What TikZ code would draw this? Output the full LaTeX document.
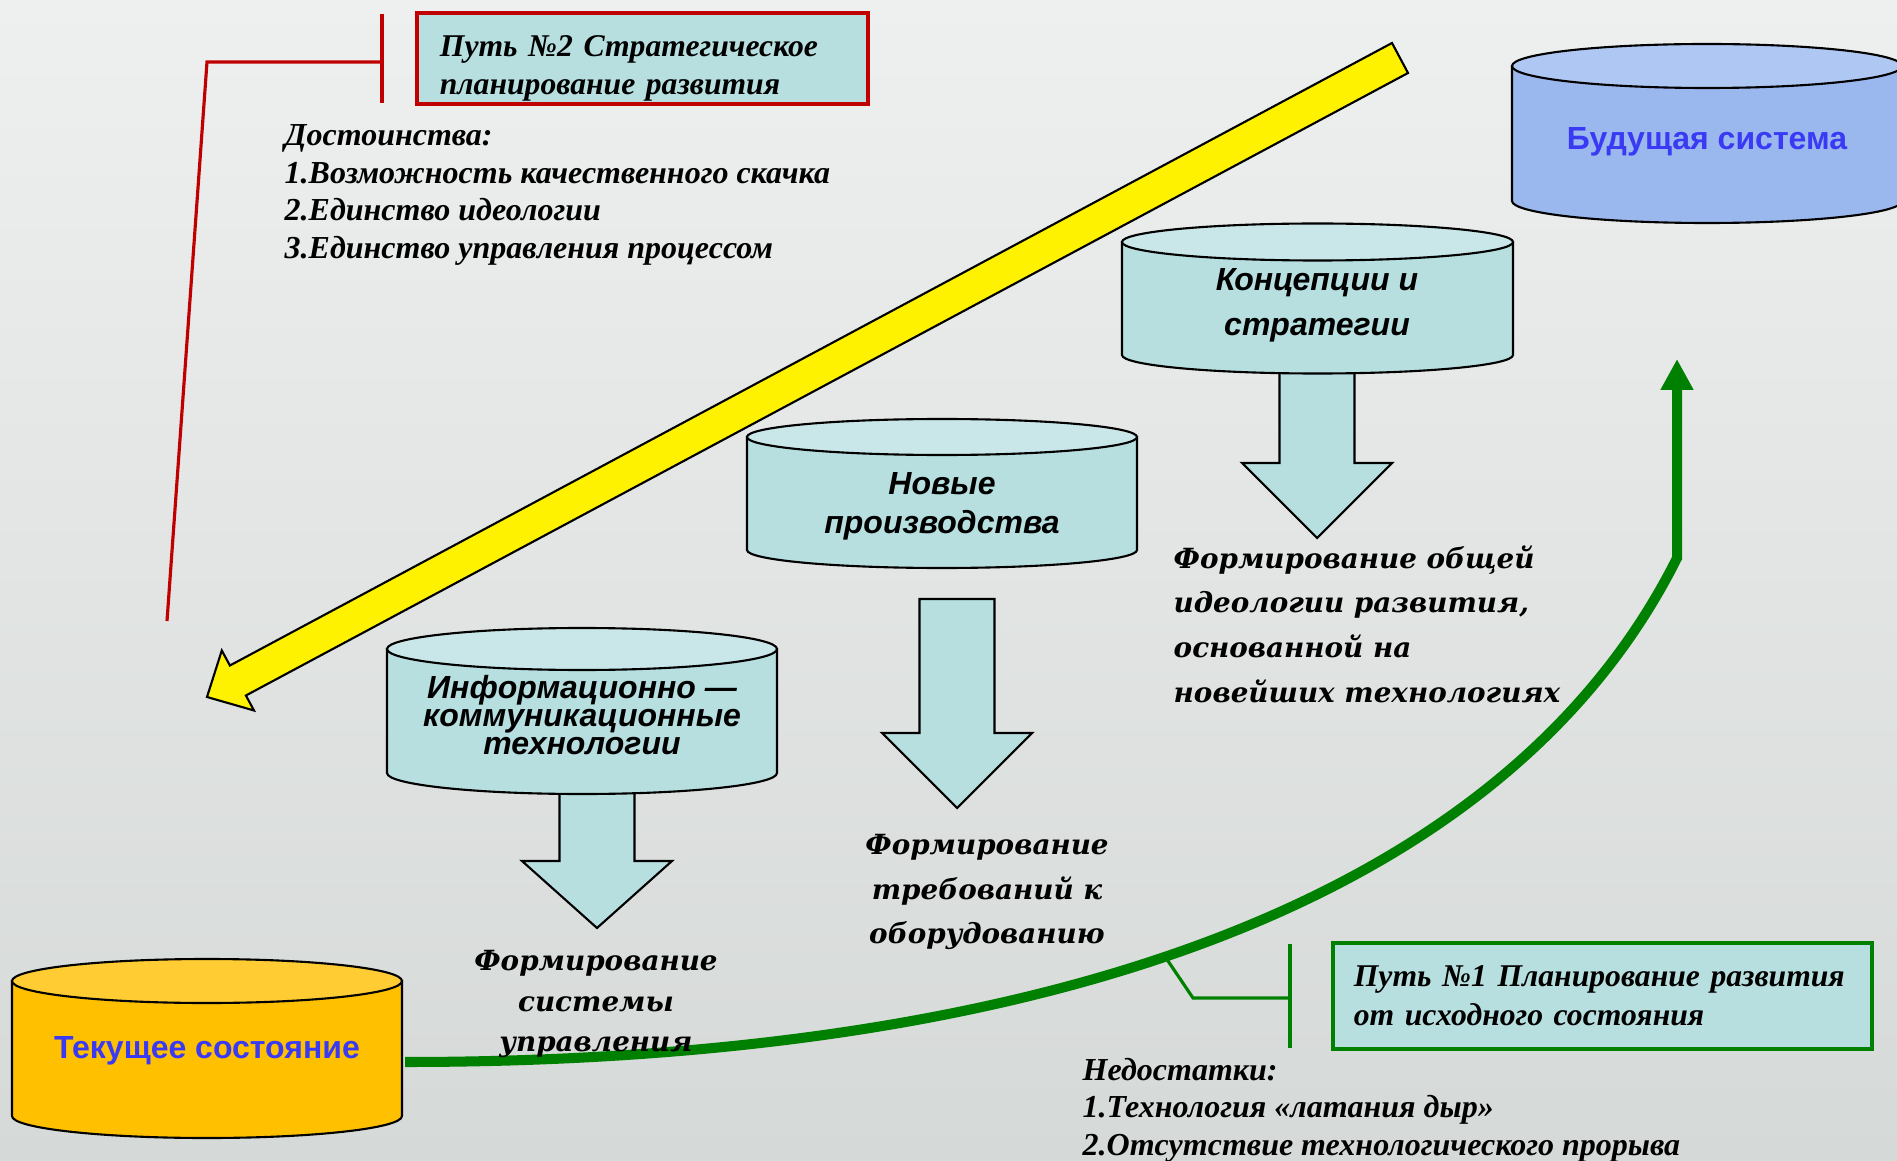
\documentclass[tikz,border=0pt]{standalone}
\usepackage{fontspec}
\setmainfont{Liberation Serif}
\newfontfamily\arialfont{Liberation Sans}
\newfontfamily\wideserif{DejaVu Serif}
\usepackage{tikz}
\usetikzlibrary{arrows.meta}
\definecolor{boxcyan}{HTML}{B7DFE0}
\definecolor{topcyan}{HTML}{C9E7E9}
\definecolor{curbody}{HTML}{FFC000}
\definecolor{curtop}{HTML}{FFCC33}
\definecolor{futbody}{HTML}{9AB7EE}
\definecolor{futtop}{HTML}{AFC7F3}
\definecolor{sysblue}{HTML}{3A3AF4}
\definecolor{pathred}{HTML}{C00000}
\definecolor{pathgreen}{HTML}{008000}
\definecolor{bgtop}{HTML}{EEF0F0}
\definecolor{bgmid}{HTML}{DCDFDF}
\definecolor{bgbot}{HTML}{D5D9D7}
\tikzset{
    every node/.style={inner sep=0pt},
    cylbody/.style={draw=black, line width=0.6pt},
    blockarrow/.style={draw=black, fill=boxcyan, line width=0.6pt},
    pathbox/.style={line width=1.1pt, fill=boxcyan, align=left, font=\bfseries\itshape\fontsize{9}{10.7}\selectfont},
    listtext/.style={align=left, font=\bfseries\itshape\fontsize{9.1}{10.7}\selectfont},
    formtext/.style={font=\wideserif\bfseries\itshape\fontsize{7.9}{12.7}\selectfont},
    cyllabel/.style={align=center, font=\arialfont\bfseries\itshape\fontsize{9.1}{12.8}\selectfont},
    syslabel/.style={text=sysblue, font=\arialfont\bfseries\fontsize{9.1}{10}\selectfont},
    redline/.style={draw=pathred, line width=0.9pt},
    greenline/.style={draw=pathgreen, line width=0.9pt}
}

\begin{document}
\begin{tikzpicture}[x=0.01cm, y=-0.01cm, line join=miter]
        \useasboundingbox (0,0) rectangle (1897,1161);
        \shade[top color=bgtop, middle color=bgmid, bottom color=bgbot] (0,0) rectangle (1897,1161);

        % block arrows under the cylinders
        \foreach \cx/\ytop/\yhead/\ytip in {1317/355/463/538, 957/599/733/808, 597/773/861/928}
            \draw[blockarrow] (\cx-37.5,\ytop) -- (\cx-37.5,\yhead) -- (\cx-75,\yhead) -- (\cx,\ytip) -- (\cx+75,\yhead) -- (\cx+37.5,\yhead) -- (\cx+37.5,\ytop) -- cycle;

        % cylinders
        \draw[cylbody, fill=curbody] (12,981) -- (12,1116) arc[start angle=180, end angle=0, x radius=195, y radius=22] -- (402,981) -- cycle;
        \draw[cylbody, fill=curtop] (207,981) ellipse [x radius=195, y radius=22];
        \draw[cylbody, fill=futbody] (1512,66) -- (1512,201) arc[start angle=180, end angle=0, x radius=195, y radius=22] -- (1902,66) -- cycle;
        \draw[cylbody, fill=futtop] (1707,66) ellipse [x radius=195, y radius=22];
        \draw[cylbody, fill=boxcyan] (1122,242) -- (1122,355) arc[start angle=180, end angle=0, x radius=195.5, y radius=18.5] -- (1513,242) -- cycle;
        \draw[cylbody, fill=topcyan] (1317.5,242) ellipse [x radius=195.5, y radius=18.5];
        \draw[cylbody, fill=boxcyan] (747,437) -- (747,550) arc[start angle=180, end angle=0, x radius=195, y radius=18] -- (1137,437) -- cycle;
        \draw[cylbody, fill=topcyan] (942,437) ellipse [x radius=195, y radius=18];
        \draw[cylbody, fill=boxcyan] (387,649) -- (387,773) arc[start angle=180, end angle=0, x radius=195, y radius=21] -- (777,649) -- cycle;
        \draw[cylbody, fill=topcyan] (582,649) ellipse [x radius=195, y radius=21];

        \node[syslabel] (cur) at (207,1051) {Текущее состояние};
        \node[syslabel] (fut) at (1707,142) {Будущая система};
        \node[cyllabel] (concept) at (1317,305) {Концепции и\\стратегии};
        \node[cyllabel, font=\arialfont\bfseries\itshape\fontsize{9.1}{11.1}\selectfont] (newprod) at (942,506) {Новые\\производства};
        \node[cyllabel, font=\arialfont\bfseries\itshape\fontsize{9.1}{7.9}\selectfont] (ict) at (582,715) {Информационно —\\коммуникационные\\технологии};

        % path 2: strategic leap
        \draw[fill=yellow, line width=0.6pt] (207,697) -- (254,710.5) -- (245.9,695.5) -- (1408,73) -- (1392,43) -- (229.9,665.5) -- (221.8,650.5) -- cycle;

        % path 1: growth from the current state
        \coordinate (fromcur) at (405,1062);
        \coordinate (bend) at (1677,558);
        \coordinate (tofut) at (1677,359);
        \draw[pathgreen, line width=2.85pt, -{Triangle[length=8.8pt, width=8.8pt]}] (fromcur) .. controls (1005,1062) and (1497,918) .. (bend) -- (tofut);

        \node[formtext, align=center, font=\wideserif\bfseries\itshape\fontsize{7.9}{11.5}\selectfont] (form1) at (596,1004) {Формирование\\системы\\управления};
        \node[formtext, align=center] (form2) at (987,892) {Формирование\\требований к\\оборудованию};
        \node[formtext, align=left, anchor=west] (form3) at (1173,624) {Формирование общей\\идеологии развития,\\основанной на\\новейших технологиях};

        \node[pathbox, draw=pathred, text width=4.05cm, inner xsep=0.23cm, minimum height=0.91cm] (path2) at (642.5,58.5) {\rule{0pt}{11.5pt}Путь №2 Стратегическое\\планирование развития};
        \node[listtext, anchor=west] (adv) at (284,195) {Достоинства:\\1.Возможность качественного скачка\\2.Единство идеологии\\3.Единство управления процессом};
        \draw[redline] (382,14) -- (382,103);
        \draw[redline] (382,62) -- (207,62) -- (167,621);

        \node[pathbox, draw=pathgreen, text width=4.97cm, inner xsep=0.21cm, minimum height=1.06cm, font=\bfseries\itshape\fontsize{9}{11.1}\selectfont] (path1) at (1602.5,996) {Путь №1 Планирование развития\\от исходного состояния};
        \node[listtext, anchor=west] (dis) at (1082,1110) {Недостатки:\\1.Технология «латания дыр»\\2.Отсутствие технологического прорыва};
        \coordinate (onpath) at (1166,958);
        \draw[greenline] (onpath) -- (1193,998) -- (1290,998);
        \draw[greenline] (1290,944) -- (1290,1048);
    \end{tikzpicture}
\end{document}
